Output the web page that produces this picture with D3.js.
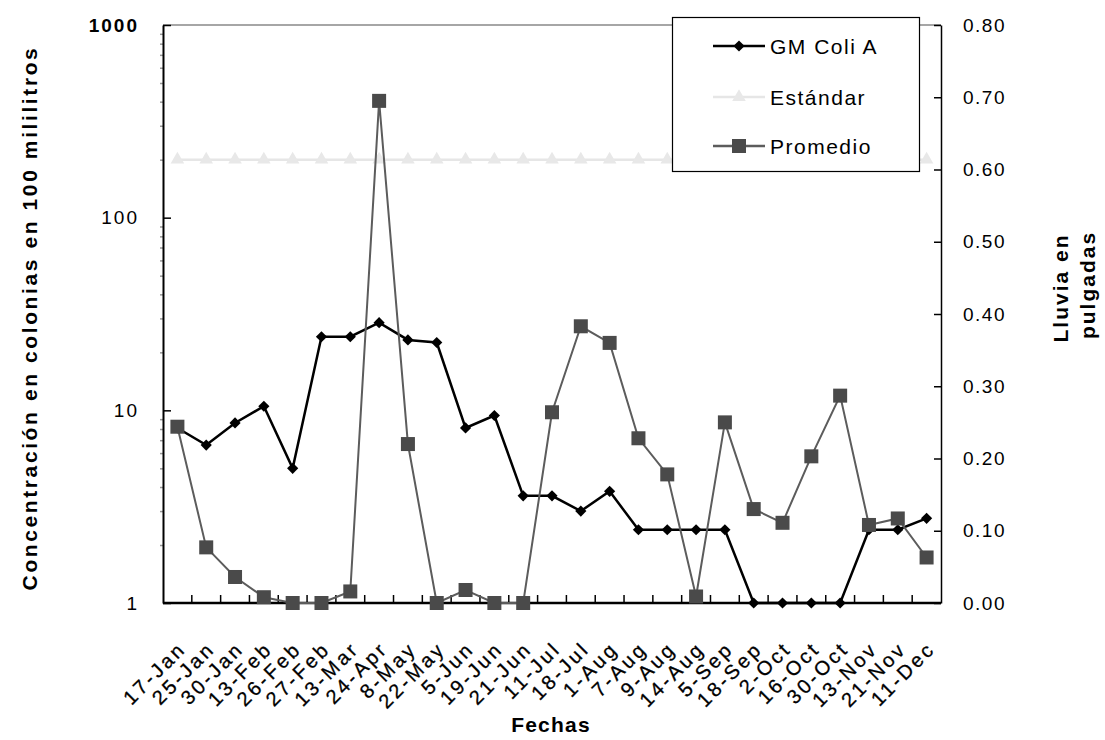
<!DOCTYPE html>
<html>
<head>
<meta charset="utf-8">
<script src="https://cdn.jsdelivr.net/npm/d3@7"></script>
<style>
  html, body { margin: 0; padding: 0; background: #fff; }
  svg { display: block; font-family: "Liberation Sans", Arial, sans-serif; }
</style>
</head>
<body>
<svg id="chart" width="1105" height="740"></svg>
<script>
// ---- data ----
const dates = ["17-Jan","25-Jan","30-Jan","13-Feb","26-Feb","27-Feb","13-Mar","24-Apr","8-May","22-May",
  "5-Jun","19-Jun","21-Jun","11-Jul","18-Jul","1-Aug","7-Aug","9-Aug","14-Aug","5-Sep","18-Sep",
  "2-Oct","16-Oct","30-Oct","13-Nov","21-Nov","11-Dec"];
const gmColiA = [8.1, 6.6, 8.6, 10.5, 5.0, 24.1, 24.1, 28.5, 23.2, 22.5,
  8.1, 9.4, 3.6, 3.6, 3.0, 3.8, 2.4, 2.4, 2.4, 2.4, 1,
  1, 1, 1, 2.4, 2.4, 2.75];
const estandar = [200,200,200,200,200,200,200,200,200,200,200,200,200,200,200,200,200,200,200,200,200,200,200,200,200,200,200];
const promedio = [0.244, 0.077, 0.036, 0.008, 0, 0, 0.016, 0.695, 0.22, 0,
  0.018, 0, 0, 0.264, 0.383, 0.36, 0.228, 0.178, 0.009, 0.25, 0.13,
  0.111, 0.203, 0.287, 0.108, 0.117, 0.063];
const leftTicks = [1, 10, 100, 1000];
const rightTicks = [0, 0.1, 0.2, 0.3, 0.4, 0.5, 0.6, 0.7, 0.8];
const seriesNames = ["GM Coli A", "Estándar", "Promedio"];

// ---- layout ----
const L = 163, R = 941, T = 25, B = 603;
const svg = d3.select("#chart");

const x = d3.scaleBand().domain(dates).range([L, R]);
const cx = d => x(d) + x.bandwidth() / 2;
const yL = d3.scaleLog().domain([1, 1000]).range([B, T]);
const yR = d3.scaleLinear().domain([0, 0.8]).range([B, T]);

// plot frame (top border gray)
svg.append("line").attr("x1", L).attr("x2", R).attr("y1", T).attr("y2", T)
  .attr("stroke", "#888").attr("stroke-width", 1.5);

// minor ticks on log axis
const minor = [];
[1, 10, 100].forEach(dec => { for (let k = 2; k <= 9; k++) minor.push(dec * k); });
const minorAxis = d3.axisLeft(yL).tickValues(minor).tickSize(3).tickFormat("");
const gMinor = svg.append("g").attr("transform", `translate(${L},0)`).call(minorAxis);
gMinor.select(".domain").remove();
gMinor.selectAll("line").attr("stroke", "#999").attr("stroke-width", 1.5);

// left axis
const leftAxis = d3.axisLeft(yL).tickValues(leftTicks).tickFormat(d3.format("d"))
  .tickSizeInner(-8).tickSizeOuter(0).tickPadding(24);
const gL = svg.append("g").attr("transform", `translate(${L},0)`).call(leftAxis);
gL.select(".domain").attr("stroke", "#000").attr("stroke-width", 2);
gL.selectAll(".tick line").attr("stroke", "#000").attr("stroke-width", 1.5);
gL.selectAll(".tick text").attr("font-size", 19).attr("letter-spacing", "2px")
  .attr("fill", "#000").attr("font-family", "'Liberation Sans', Arial, sans-serif")
  .attr("font-weight", d => d === 1000 ? "bold" : "normal");

// right axis
const rightAxis = d3.axisRight(yR).tickValues(rightTicks).tickFormat(d3.format(".2f"))
  .tickSizeInner(-7).tickSizeOuter(0).tickPadding(22);
const gR = svg.append("g").attr("transform", `translate(${R},0)`).call(rightAxis);
gR.select(".domain").attr("stroke", "#000").attr("stroke-width", 1.5);
gR.selectAll(".tick line").attr("stroke", "#000").attr("stroke-width", 1.5);
gR.selectAll(".tick text").attr("font-size", 19).attr("letter-spacing", "1.5px")
  .attr("fill", "#000").attr("font-family", "'Liberation Sans', Arial, sans-serif");

// bottom axis: boundary ticks pointing up
const gB = svg.append("g");
gB.append("line").attr("x1", L).attr("x2", R).attr("y1", B).attr("y2", B)
  .attr("stroke", "#000").attr("stroke-width", 2.5);
gB.selectAll("line.bt").data(dates.slice(1)).join("line").attr("class", "bt")
  .attr("x1", d => x(d)).attr("x2", d => x(d)).attr("y1", B).attr("y2", B - 8)
  .attr("stroke", "#000").attr("stroke-width", 1.5);
gB.selectAll("text.xl").data(dates).join("text").attr("class", "xl")
  .attr("transform", d => `translate(${cx(d) + 5},${B + 42}) rotate(-45)`)
  .attr("text-anchor", "end").attr("dy", "0.35em")
  .attr("font-size", 20).attr("letter-spacing", "3px").attr("fill", "#000")
  .attr("stroke", "#000").attr("stroke-width", 0.3)
  .text(d => d);

// ---- series ----
// GM Coli A
const lineL = d3.line().x((d, i) => cx(dates[i])).y(d => yL(d));
svg.append("path").datum(gmColiA).attr("d", lineL)
  .attr("fill", "none").attr("stroke", "#000").attr("stroke-width", 2.5);
const diamond = d3.symbol().type(d3.symbolDiamond2).size(80);
svg.selectAll("path.gm").data(gmColiA).join("path").attr("class", "gm")
  .attr("transform", (d, i) => `translate(${cx(dates[i])},${yL(d)})`)
  .attr("d", diamond).attr("fill", "#000");

// Estándar
svg.append("path").datum(estandar).attr("d", lineL)
  .attr("fill", "none").attr("stroke", "#e6e6e6").attr("stroke-width", 2.5);
const tri = d3.symbol().type(d3.symbolTriangle).size(80);
svg.selectAll("path.st").data(estandar).join("path").attr("class", "st")
  .attr("transform", (d, i) => `translate(${cx(dates[i])},${yL(d)})`)
  .attr("d", tri).attr("fill", "#e8e8e8");

// Promedio (right axis)
const lineR = d3.line().x((d, i) => cx(dates[i])).y(d => yR(d));
svg.append("path").datum(promedio).attr("d", lineR)
  .attr("fill", "none").attr("stroke", "#5c5c5c").attr("stroke-width", 2);
svg.selectAll("rect.pr").data(promedio).join("rect").attr("class", "pr")
  .attr("x", (d, i) => cx(dates[i]) - 7).attr("y", d => yR(d) - 7)
  .attr("width", 14).attr("height", 14).attr("fill", "#4a4a4a");

// ---- legend ----
const lg = svg.append("g");
lg.append("rect").attr("x", 672.5).attr("y", 17.5).attr("width", 247).attr("height", 154)
  .attr("fill", "#fff").attr("stroke", "#000").attr("stroke-width", 1.2);
const rowsY = [46, 97, 146];
const lineCols = ["#000", "#e6e6e6", "#5c5c5c"];
seriesNames.forEach((name, i) => {
  const yy = rowsY[i];
  lg.append("line").attr("x1", 713).attr("x2", 765).attr("y1", yy).attr("y2", yy)
    .attr("stroke", lineCols[i]).attr("stroke-width", 2.5);
  if (i === 0) lg.append("path").attr("d", diamond).attr("transform", `translate(739,${yy})`).attr("fill", "#000");
  if (i === 1) lg.append("path").attr("d", tri).attr("transform", `translate(739,${yy})`).attr("fill", "#e8e8e8");
  if (i === 2) lg.append("rect").attr("x", 732).attr("y", yy - 7).attr("width", 14).attr("height", 14).attr("fill", "#4a4a4a");
  lg.append("text").attr("x", 770).attr("y", yy).attr("dy", "0.36em")
    .attr("font-size", 21).attr("letter-spacing", "1.5px").attr("fill", "#000").text(name);
});

// ---- titles ----
svg.append("text").attr("transform", `translate(30,318) rotate(-90)`)
  .attr("text-anchor", "middle").attr("dy", "0.35em")
  .attr("font-size", 21).attr("font-weight", "bold").attr("letter-spacing", "2.6px")
  .text("Concentración en colonias en 100 mililitros");
svg.append("text").attr("x", 551).attr("y", 725).attr("text-anchor", "middle").attr("dy", "0.35em")
  .attr("font-size", 21).attr("font-weight", "bold").attr("letter-spacing", "1.2px").text("Fechas");
svg.append("text").attr("transform", `translate(1061,288) rotate(-90)`)
  .attr("text-anchor", "middle").attr("dy", "0.35em")
  .attr("font-size", 21).attr("font-weight", "bold").attr("letter-spacing", "2px").text("Lluvia en");
svg.append("text").attr("transform", `translate(1088,285) rotate(-90)`)
  .attr("text-anchor", "middle").attr("dy", "0.35em")
  .attr("font-size", 21).attr("font-weight", "bold").attr("letter-spacing", "2px").text("pulgadas");
</script>
</body>
</html>
